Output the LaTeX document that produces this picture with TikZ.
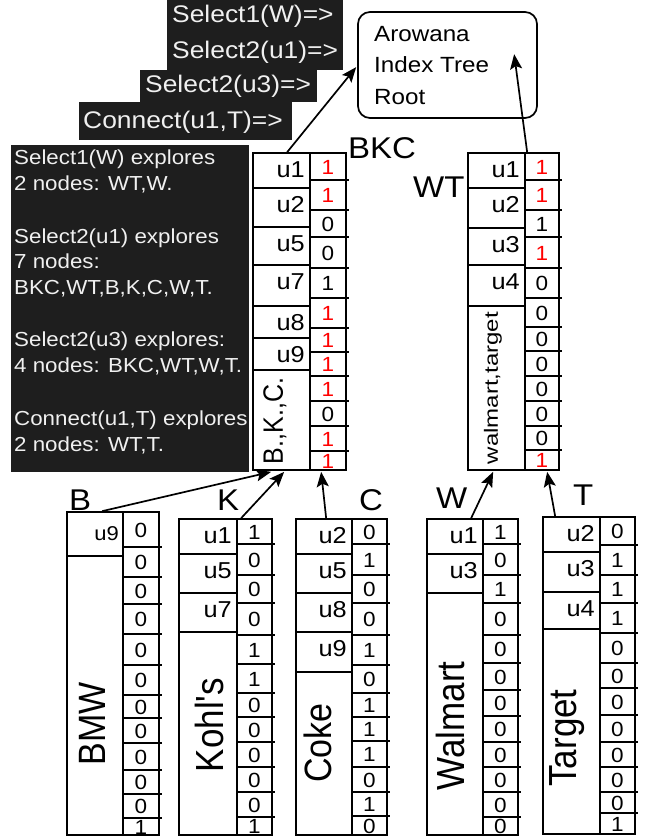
\documentclass[tikz,border=0pt]{standalone}
\usepackage{fontspec}
\setmainfont{Liberation Sans}[FakeStretch=1.1]
\newfontfamily\plainsans{Liberation Sans}
\usetikzlibrary{arrows.meta,calc}
\definecolor{panel}{RGB}{30,30,30}
\definecolor{paneltext}{RGB}{240,240,240}
\newcommand\fsz[1]{\fontsize{#1}{#1}\selectfont}
% bit column: #1 mid x, #2 right x, #3 bottom y, #4 list top/bottom/value/colour, #5 prefix
\newcommand\bitcolumn[5]{%
  \foreach \t/\b/\v/\c in {#4} {%
    \node[bit,text=\c] (#5\t) at ({(#1+#2)/2},{(\t+\b)/2+7.5}) {\v};
    \ifdim \b pt<#3pt \draw[ln] (#1,\b) -- ({#2+3},\b); \fi
  }}
% label column: #1 left x, #2 mid x, #3 list top/bottom/label, #4 prefix
\newcommand\labcolumn[4]{%
  \foreach \t/\b/\l in {#3} {%
    \draw[ln] (#1,\b) -- (#2,\b);
    \node[ulab] (#4\t) at ({#2-5},{\t+24}) {\l};
  }}
\begin{document}
\begin{tikzpicture}[x=1pt,y=-1pt,
  ln/.style={line width=1.7pt},
  frame/.style={draw,line width=1.7pt,inner sep=0pt},
  bit/.style={anchor=base,inner sep=0pt,font=\fsz{20.5}},
  ulab/.style={anchor=base east,inner sep=0pt,font=\fsz{23}},
  big/.style={anchor=base west,inner sep=0pt,font=\fsz{30}},
  vtext/.style={rotate=90,inner sep=0pt},
  toptxt/.style={anchor=base west,inner sep=0pt,text=paneltext,font=\fsz{24}},
  paneltxt/.style={anchor=base west,inner sep=0pt,text=paneltext,font=\fsz{20.3}},
  roottxt/.style={anchor=base west,inner sep=0pt,font=\fsz{22}},
  arr/.style={line width=1.7pt,-{Stealth[length=15pt,width=12pt,inset=3pt]}}]
\useasboundingbox (0,0) rectangle (646,838);

% ---- dark panels ----
\fill[panel] (167,0) rectangle (343,70);
\fill[panel] (140,70) rectangle (317,102);
\fill[panel] (79,102) rectangle (292,140);
\fill[panel] (11,145) rectangle (249,472);
\node[toptxt] (s1) at (172,22.7) {Select1(W)=>};
\node[toptxt] (s2) at (172,58) {Select2(u1)=>};
\node[toptxt] (s3) at (145,92) {Select2(u3)=>};
\node[toptxt] (s4) at (83,128) {Connect(u1,T)=>};
\foreach \y/\s [count=\i] in {164/{Select1(W) explores},190/{2 nodes: WT,W.},
  243/{Select2(u1) explores},268/{7 nodes:},294/{BKC,WT,B,K,C,W,T.},
  346/{Select2(u3) explores:},372/{4 nodes: BKC,WT,W,T.},
  425/{Connect(u1,T) explores},451/{2 nodes: WT,T.}}
  \node[paneltxt] (pl\i) at (14,\y) {\s};

% ---- root ----
\node[draw,line width=1.7pt,rounded corners=12pt,minimum width=179pt,minimum height=106pt] (root) at (447.5,65) {};
\node[roottxt] (r1) at (374,41) {Arowana};
\node[roottxt] (r2) at (374,72.5) {Index Tree};
\node[roottxt] (r3) at (374,104) {Root};

% ---- BKC ----
\node[frame,minimum width=93pt,minimum height=317pt] (bkc) at (299.5,311.5) {};
\draw[ln] (310,153) -- (310,470);
\labcolumn{253}{310}{153/188/u1,188/227/u2,227/265/u5,265/306/u7,306/338/u8,338/370/u9}{bkcl}
\bitcolumn{310}{346}{470}{153/180/1/red,180/210/1/red,210/237/0/black,237/268/0/black,268/298/1/black,298/328/1/red,328/352/1/red,352/376/1/red,376/401/1/red,401/426/0/black,426/451/1/red,451/470/1/red}{bkcb}
\node[vtext] (bkctxt) at (275,421) {\scalebox{1}[1.12]{\plainsans\fsz{25}B.,K.,C.}};
\node[big] (bkclab) at (348,158) {BKC};

% ---- WT ----
\node[frame,minimum width=91pt,minimum height=317pt] (wt) at (513.5,311.5) {};
\draw[ln] (525,153) -- (525,470);
\labcolumn{468}{525}{153/188/u1,188/228/u2,228/265/u3,265/306/u4}{wtl}
\bitcolumn{525}{559}{470}{153/180/1/red,180/210/1/red,210/237/1/black,237/268/1/red,268/298/0/black,298/327/0/black,327/351/0/black,351/376/0/black,376/401/0/black,401/426/0/black,426/450/0/black,450/470/1/red}{wtb}
\node[vtext] (wttxt) at (493,388) {\scalebox{1}[0.8]{\plainsans\fsz{24}walmart,target}};
\node[big] (wtlab) at (413,197) {WT};

% ---- B ----
\node[frame,minimum width=92pt,minimum height=323pt] (bleaf) at (113,673.5) {};
\draw[ln] (123,512) -- (123,835);
\draw[ln] (67,556) -- (123,556);
\node[anchor=base east,inner sep=0pt,font=\fsz{20}] (bl512) at (119,540) {u9};
\bitcolumn{123}{159}{835}{512/547/0/black,547/577/0/black,577/604/0/black,604/634/0/black,634/665/0/black,665/695/0/black,695/718/0/black,718/743/0/black,743/770/0/black,770/794/0/black,794/818/0/black,818/835/1/black}{bb}
\node[vtext] (btxt) at (92,724) {\scalebox{1}[1.12]{\plainsans\fsz{34}BMW}};
\node[big] (blab) at (69,510) {B};

% ---- K ----
\node[frame,minimum width=93pt,minimum height=316pt] (kleaf) at (225.5,677) {};
\draw[ln] (237,519) -- (237,835);
\labcolumn{179}{237}{519/554/u1,554/593/u5,593/632/u7}{kl}
\bitcolumn{237}{272}{835}{519/544/1/black,544/575/0/black,575/603/0/black,603/635/0/black,635/664/1/black,664/693/1/black,693/717/0/black,717/742/0/black,742/767/0/black,767/792/0/black,792/817/0/black,817/835/1/black}{kb}
\node[vtext] (ktxt) at (209,725) {\scalebox{1}[1.12]{\plainsans\fsz{35}Kohl's}};
\node[big] (klab) at (217,510) {K};

% ---- C ----
\node[frame,minimum width=91pt,minimum height=316pt] (cleaf) at (341.5,677) {};
\draw[ln] (352,519) -- (352,835);
\labcolumn{296}{352}{519/554/u2,554/593/u5,593/632/u8,632/672/u9}{cl}
\bitcolumn{352}{387}{835}{519/544/0/black,544/575/1/black,575/603/0/black,603/635/0/black,635/665/1/black,665/693/0/black,693/717/1/black,717/741/1/black,741/767/1/black,767/792/0/black,792/816/1/black,816/835/0/black}{cb}
\node[vtext] (ctxt) at (318,743) {\scalebox{1}[1.12]{\plainsans\fsz{34}Coke}};
\node[big] (clab) at (359,510) {C};

% ---- W ----
\node[frame,minimum width=91pt,minimum height=316pt] (wleaf) at (472.5,677) {};
\draw[ln] (483,519) -- (483,835);
\labcolumn{427}{483}{519/554/u1,554/593/u3}{wl}
\bitcolumn{483}{518}{835}{519/544/1/black,544/575/0/black,575/603/1/black,603/635/0/black,635/663/0/black,663/690/0/black,690/716/0/black,716/742/0/black,742/767/0/black,767/792/0/black,792/817/0/black,817/835/0/black}{wb}
\node[vtext] (wtxt) at (450,726) {\scalebox{1}[1.12]{\plainsans\fsz{35}Walmart}};
\node[big] (wlab) at (436,508) {W};

% ---- T ----
\node[frame,minimum width=92pt,minimum height=317pt] (tleaf) at (589,675.5) {};
\draw[ln] (600,517) -- (600,834);
\labcolumn{543}{600}{517/552/u2,552/592/u3,592/629/u4}{tl}
\bitcolumn{600}{635}{834}{517/545/0/black,545/575/1/black,575/603/1/black,603/633/1/black,633/663/0/black,663/688/0/black,688/715/0/black,715/742/0/black,742/767/0/black,767/792/0/black,792/813/0/black,813/834/1/black}{tb}
\node[vtext] (ttxt) at (567,738) {\scalebox{1}[1.12]{\plainsans\fsz{35}Target}};
\node[big] (tlab) at (573,505) {T};

% ---- connectors ----
\draw[arr] ($(bkc.north west)+(35,0)$) -- ($(root.north west)+(-1,56)$);
\draw[arr] ($(wt.north west)+(60,0)$) -- ($(root.north west)+(157,43)$);
\draw[arr] ($(bleaf.north west)+(36,0)$) -- ($(bkc.south west)+(19,1)$);
\draw[arr] ($(kleaf.north west)+(63,0)$) -- ($(bkc.south west)+(32,1)$);
\draw[arr] ($(cleaf.north west)+(31,0)$) -- ($(bkc.south west)+(69,1)$);
\draw[arr] ($(wleaf.north west)+(45,0)$) -- ($(wt.south west)+(26,1)$);
\draw[arr] ($(tleaf.north west)+(13,0)$) -- ($(wt.south west)+(80,1)$);
\end{tikzpicture}
\end{document}
